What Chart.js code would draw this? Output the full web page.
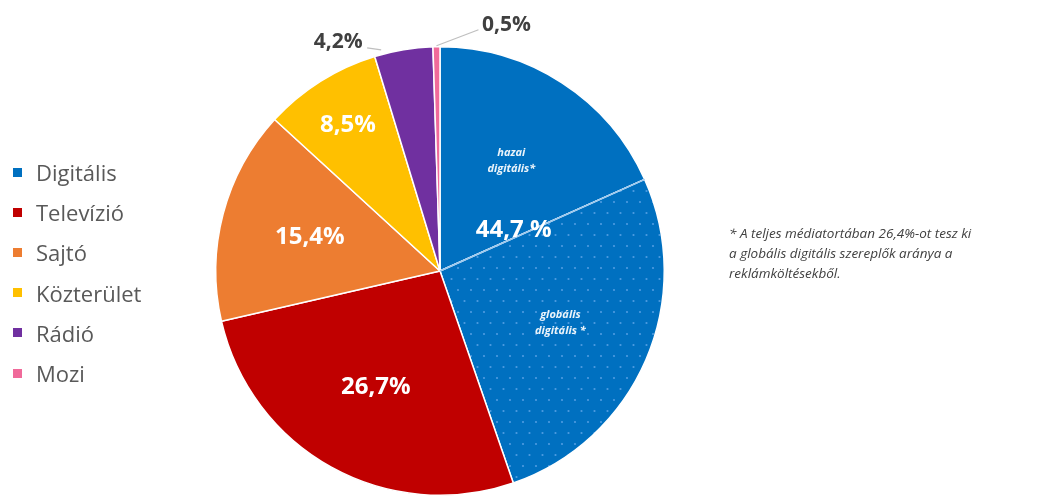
<!DOCTYPE html>
<html>
<head>
<meta charset="utf-8">
<script src="https://cdn.jsdelivr.net/npm/chart.js@4.4.1/dist/chart.umd.min.js"></script>
<style>
  html, body { margin: 0; padding: 0; background: #fff; }
  #stage { position: relative; width: 1040px; height: 498px; overflow: hidden; font-family: "Open Sans", "Noto Sans", sans-serif; }
  #pie { position: absolute; left: 0; top: 0; }
  .legend { position: absolute; left: 13px; top: 152px; margin: 0; padding: 0; list-style: none; }
  .legend li { height: 40.2px; display: flex; align-items: center; color: #595959; font-size: 22px; }
  .legend .sw { width: 9px; height: 9px; margin-right: 14px; flex: none; }
  .note { position: absolute; left: 729px; top: 223px; color: #404040; font-style: italic; font-size: 13.5px; line-height: 20px; white-space: nowrap; }
</style>
</head>
<body>
<div id="stage">
  <canvas id="pie" width="1040" height="498"></canvas>
  <ul class="legend" id="legend"></ul>
  <div class="note">* A teljes médiatortában 26,4%-ot tesz ki<br>a globális digitális szereplők aránya a<br>reklámköltésekből.</div>
</div>
<script>
// Advertising spend shares by media type (%)
const categories = ['Digitális', 'Televízió', 'Sajtó', 'Közterület', 'Rádió', 'Mozi'];
const shares = [44.7, 26.7, 15.4, 8.5, 4.2, 0.5];
const colors = ['#0070C0', '#C00000', '#ED7D31', '#FFC000', '#7030A0', '#F06A9A'];

// Digital split into domestic and global players (% of total)
const digitalParts = ['hazai digitális*', 'globális digitális *'];
const digitalValues = [18.3, 26.4];

const fmt = v => v.toFixed(1).replace('.', ',');

// Legend
const legendEl = document.getElementById('legend');
categories.forEach((c, i) => {
  const li = document.createElement('li');
  li.innerHTML = '<span class="sw" style="background:' + colors[i] + '"></span>' + c;
  legendEl.appendChild(li);
});

// Dotted fill for the global digital share
function dotPattern(base, dot) {
  const c = document.createElement('canvas');
  c.width = 13; c.height = 22;
  const g = c.getContext('2d');
  g.fillStyle = base; g.fillRect(0, 0, 13, 22);
  g.fillStyle = dot;
  [[3, 4], [9.5, 15]].forEach(([x, y]) => { g.beginPath(); g.arc(x, y, 1.1, 0, Math.PI * 2); g.fill(); });
  return g.createPattern(c, 'repeat');
}

const ctx = document.getElementById('pie').getContext('2d');
const sliceValues = digitalValues.concat(shares.slice(1));
const sliceColors = [colors[0], dotPattern(colors[0], '#4E9CE0')].concat(colors.slice(1));

const deg = Math.PI / 180;
function polar(arc, angle, r) {
  return { x: arc.x + Math.cos(angle) * r, y: arc.y + Math.sin(angle) * r };
}

const labelPlugin = {
  id: 'sliceLabels',
  afterDatasetsDraw(chart) {
    const arcs = chart.getDatasetMeta(0).data;
    const g = chart.ctx;
    const R = arcs[0].outerRadius;
    const mid = a => (a.startAngle + a.endAngle) / 2;
    g.save();
    g.textAlign = 'center';
    g.textBaseline = 'middle';

    // divider between domestic and global digital
    const divEnd = polar(arcs[1], arcs[1].startAngle, R);
    g.strokeStyle = '#9CC8EE';
    g.lineWidth = 1.6;
    g.beginPath(); g.moveTo(arcs[1].x, arcs[1].y); g.lineTo(divEnd.x, divEnd.y); g.stroke();

    // inner value labels
    g.fillStyle = '#FFFFFF';
    g.font = 'bold 24px "Open Sans", sans-serif';
    [[2, 0.59], [3, 0.6], [4, 0.77]].forEach(([i, f]) => {
      const p = polar(arcs[i], mid(arcs[i]), R * f);
      g.fillText(fmt(shares[i - 1]) + '%', p.x, p.y);
    });
    const pd = polar(arcs[1], arcs[1].startAngle - 5 * deg, R * 0.376);
    g.fillText(fmt(shares[0]) + ' %', pd.x, pd.y);

    // digital sub-labels
    g.font = 'italic bold 11px "Open Sans", sans-serif';
    g.fillStyle = 'rgba(255,255,255,0.92)';
    [0, 1].forEach(i => {
      const p = polar(arcs[i], mid(arcs[i]), R * 0.585);
      const words = digitalParts[i].split(' ');
      g.fillText(words[0], p.x, p.y - 8);
      g.fillText(words.slice(1).join(' '), p.x, p.y + 8);
    });

    // outside labels with leader lines
    g.font = 'bold 21px "Open Sans", sans-serif';
    g.fillStyle = '#404040';
    g.strokeStyle = '#BFBFBF';
    g.lineWidth = 1.2;
    const radio = arcs[5], mozi = arcs[6];
    const rEdge = polar(radio, radio.startAngle + (radio.endAngle - radio.startAngle) * 0.1, R + 1);
    const rText = { x: rEdge.x - 42, y: rEdge.y - 12 };
    g.beginPath(); g.moveTo(rText.x + 29, rText.y + 6); g.lineTo(rEdge.x + 1, rEdge.y - 4); g.stroke();
    g.fillText(fmt(shares[4]) + '%', rText.x, rText.y);

    const mEdge = polar(mozi, mid(mozi), R);
    const mText = { x: mEdge.x + 70, y: mEdge.y - 22 };
    g.beginPath(); g.moveTo(mEdge.x, mEdge.y - 1); g.lineTo(mText.x - 28, mText.y + 5); g.stroke();
    g.fillText(fmt(shares[5]) + '%', mText.x, mText.y);
    g.restore();
  }
};

new Chart(ctx, {
  type: 'pie',
  data: {
    labels: digitalParts.concat(categories.slice(1)),
    datasets: [{
      data: sliceValues,
      backgroundColor: sliceColors,
      borderColor: '#FFFFFF',
      borderWidth: 1.5,
      hoverOffset: 0
    }]
  },
  options: {
    responsive: false,
    animation: false,
    events: [],
    layout: { padding: { left: 215, right: 375, top: 46, bottom: 2 } },
    plugins: { legend: { display: false }, tooltip: { enabled: false } }
  },
  plugins: [labelPlugin]
});
</script>
</body>
</html>
